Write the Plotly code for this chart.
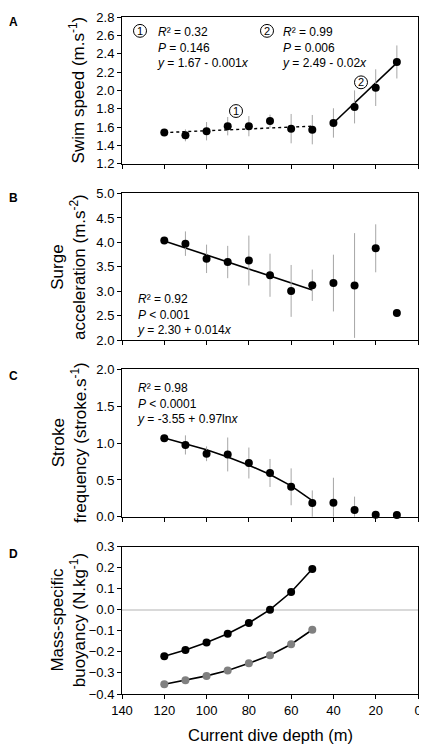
import plotly.graph_objects as go

# ---------------- data ----------------
depth = [120, 110, 100, 90, 80, 70, 60, 50, 40, 30, 20, 10]

speed = [1.54, 1.51, 1.555, 1.61, 1.61, 1.665, 1.583, 1.572, 1.645, 1.82, 2.03, 2.31]
speed_err = [0.0, 0.065, 0.10, 0.10, 0.11, 0.07, 0.16, 0.16, 0.16, 0.18, 0.20, 0.18]
fit1_x = [120, 50]
fit1_y = [1.54, 1.61]
fit2_x = [40, 10]
fit2_y = [1.645, 2.30]

surge = [4.04, 3.975, 3.665, 3.60, 3.63, 3.33, 3.01, 3.126, 3.17, 3.12, 3.88, 2.56]
surge_err = [0.0, 0.25, 0.29, 0.33, 0.51, 0.44, 0.53, 0.32, 0.58, 1.07, 0.49, 0.0]
fitB_x = [120, 50]
fitB_y = [4.03, 3.03]

stroke = [1.065, 0.975, 0.855, 0.846, 0.73, 0.595, 0.407, 0.188, 0.19, 0.094, 0.027, 0.025]
stroke_err_plus = [0.0, 0.13, 0.10, 0.23, 0.21, 0.19, 0.25, 0.17, 0.34, 0.18, 0.0, 0.0]
stroke_err_minus = [0.0, 0.13, 0.10, 0.23, 0.21, 0.19, 0.25, 0.188, 0.19, 0.094, 0.0, 0.0]
fitC_x = [120, 110, 100, 90, 80, 70, 60, 50]
fitC_y = [1.07, 0.995, 0.91, 0.81, 0.70, 0.575, 0.42, 0.22]

buoy_depth = [120, 110, 100, 90, 80, 70, 60, 50]
buoy_black = [-0.221, -0.191, -0.156, -0.114, -0.063, 0.0, 0.084, 0.193]
buoy_gray = [-0.354, -0.335, -0.314, -0.288, -0.254, -0.216, -0.164, -0.095]

x_ticks = [140, 120, 100, 80, 60, 40, 20, 0]

# ---------------- figure ----------------
FONT = "Liberation Sans, Arial, sans-serif"
ERRC = "#a6a6a6"
MS = 8
OFF = 8  # page body margin offset

fig = go.Figure()

def dots(x, y, xa, ya, err=None):
    fig.add_trace(go.Scatter(
        x=x, y=y, mode="markers", xaxis=xa, yaxis=ya,
        marker=dict(color="black", size=MS),
        error_y=err, cliponaxis=False, showlegend=False))

def line(x, y, xa, ya, dash="solid", width=1.6):
    fig.add_trace(go.Scatter(
        x=x, y=y, mode="lines", xaxis=xa, yaxis=ya,
        line=dict(color="black", width=width, dash=dash), showlegend=False))

def eb(arr, arrm=None):
    d = dict(type="data", array=arr, color=ERRC, thickness=1, width=0, visible=True)
    if arrm is not None:
        d["symmetric"] = False
        d["arrayminus"] = arrm
    return d

# Panel A
line(fit1_x, fit1_y, "x", "y", "dot", 1.4)
line(fit2_x, fit2_y, "x", "y")
dots(depth, speed, "x", "y", eb(speed_err))
# Panel B
line(fitB_x, fitB_y, "x2", "y2")
dots(depth, surge, "x2", "y2", eb(surge_err))
# Panel C
line(fitC_x, fitC_y, "x3", "y3")
dots(depth, stroke, "x3", "y3", eb(stroke_err_plus, stroke_err_minus))
# Panel D
fig.add_trace(go.Scatter(x=buoy_depth, y=buoy_black, mode="lines+markers", xaxis="x4", yaxis="y4",
                         line=dict(color="black", width=1.6),
                         marker=dict(color="black", size=MS), cliponaxis=False, showlegend=False))
fig.add_trace(go.Scatter(x=buoy_depth, y=buoy_gray, mode="lines+markers", xaxis="x4", yaxis="y4",
                         line=dict(color="black", width=1.6),
                         marker=dict(color="#808080", size=MS), cliponaxis=False, showlegend=False))

H = 684.0
def dom(top_px, bot_px):
    return [(694 - bot_px) / H, (694 - top_px) / H]

xbase = dict(range=[140, 0], tickvals=x_ticks, ticks="outside", ticklen=4, tickcolor="black",
             showline=True, linecolor="black", linewidth=1, mirror=True,
             showgrid=False, zeroline=False, domain=[0, 1],
             tickfont=dict(family=FONT, size=13, color="black"))
ybase = dict(ticks="outside", ticklen=4, tickcolor="black", showline=True, linecolor="black",
             linewidth=1, mirror=True, showgrid=False, zeroline=False, tickformat=".1f",
             tickfont=dict(family=FONT, size=13, color="black"))

fig.update_layout(
    width=427 - OFF, height=748 - OFF,
    margin=dict(l=122 - OFF, r=9, t=10 - OFF, b=54, pad=0),
    paper_bgcolor="white", plot_bgcolor="white",
    font=dict(family=FONT, size=13, color="black"),
    xaxis=dict(xbase, anchor="y", showticklabels=False),
    xaxis2=dict(xbase, anchor="y2", showticklabels=False, matches="x"),
    xaxis3=dict(xbase, anchor="y3", showticklabels=False, matches="x"),
    xaxis4=dict(xbase, anchor="y4", matches="x"),
    yaxis=dict(ybase, anchor="x", domain=dom(10, 158.3), range=[1.2, 2.8], dtick=0.2),
    yaxis2=dict(ybase, anchor="x2", domain=dom(188.3, 336.7), range=[2.0, 5.0], dtick=0.5),
    yaxis3=dict(ybase, anchor="x3", domain=dom(366, 515), range=[0, 2.0], dtick=0.5),
    yaxis4=dict(ybase, anchor="x4", domain=dom(545, 694), range=[-0.4, 0.3], dtick=0.1,
                zeroline=True, zerolinecolor="#d9d9d9", zerolinewidth=1.5),
)

def px_x(px):
    return (px - 122) / 296.0

def px_y(py):
    return (694 - py) / H

ann = []
# x title
ann.append(dict(text="Current dive depth (m)", x=0.5, y=px_y(735), xref="paper", yref="paper",
                xanchor="center", yanchor="middle", showarrow=False,
                font=dict(family=FONT, size=16.5)))
# panel letters
for lab, py in [("A", 15), ("B", 193), ("C", 373), ("D", 553)]:
    ann.append(dict(text="<b>%s</b>" % lab, x=px_x(13), y=px_y(py), xref="paper", yref="paper",
                    xanchor="center", yanchor="middle", showarrow=False,
                    font=dict(family=FONT, size=12)))
# y titles
ytitles = [
    ("Swim speed (m.s<sup>-1</sup>)", 77, (10 + 158.3) / 2),
    ("Surge<br>acceleration (m.s<sup>-2</sup>)", 69, (188.3 + 336.7) / 2),
    ("Stroke<br>frequency (stroke.s<sup>-1</sup>)", 69, (366 + 515) / 2),
    ("Mass-specific<br>buoyancy (N.kg<sup>-1</sup>)", 68, (545 + 694) / 2),
]
for t, px, py in ytitles:
    ann.append(dict(text=t, x=px_x(px), y=px_y(py), xref="paper", yref="paper",
                    xanchor="center", yanchor="middle", textangle=-90, showarrow=False,
                    font=dict(family=FONT, size=17)))

STAT = dict(family=FONT, size=12)
# stats text
stats = [
    ("<i>R</i>² = 0.32<br><i>P</i> = 0.146<br><i>y</i> = 1.67 - 0.001<i>x</i>", 155, 16),
    ("<i>R</i>² = 0.99<br><i>P</i> = 0.006<br><i>y</i> = 2.49 - 0.02<i>x</i>", 280, 16),
    ("<i>R</i>² = 0.92<br><i>P</i> < 0.001<br><i>y</i> = 2.30 + 0.014<i>x</i>", 135, 286),
    ("<i>R</i>² = 0.98<br><i>P</i> < 0.0001<br><i>y</i> = -3.55 + 0.97ln<i>x</i>", 135, 376),
]
for t, px, py in stats:
    ann.append(dict(text=t, x=px_x(px), y=px_y(py), xref="paper", yref="paper",
                    xanchor="left", yanchor="top", align="left", showarrow=False, font=STAT))

# circled numbers: circle outline + digit
shapes = []
R = 6.5
for t, px, py in [("1", 140, 24), ("2", 267, 24), ("1", 236, 105), ("2", 361, 76)]:
    shapes.append(dict(type="circle", xref="paper", yref="paper",
                       x0=px_x(px - R), x1=px_x(px + R), y0=px_y(py + R), y1=px_y(py - R),
                       line=dict(color="black", width=1), fillcolor="rgba(0,0,0,0)"))
    ann.append(dict(text=t, x=px_x(px), y=px_y(py), xref="paper", yref="paper",
                    xanchor="center", yanchor="middle", showarrow=False,
                    font=dict(family=FONT, size=11)))

fig.update_layout(annotations=ann, shapes=shapes)

fig.write_html("out.html")
